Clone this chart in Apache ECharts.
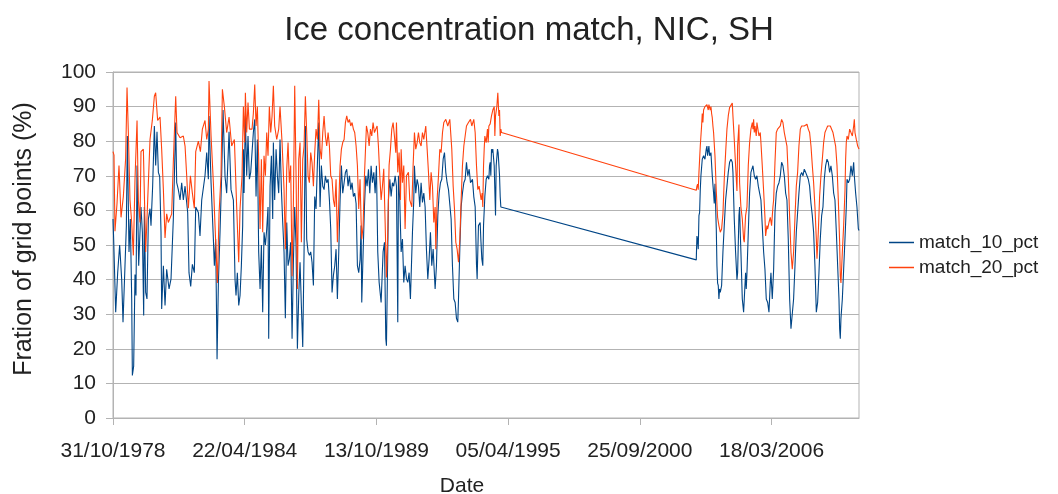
<!DOCTYPE html>
<html>
<head>
<meta charset="utf-8">
<script src="https://cdn.jsdelivr.net/npm/echarts@6/dist/echarts.min.js"></script>
<style>
  html, body { margin: 0; padding: 0; background: #fff; }
  #chart { width: 1058px; height: 494px; }
</style>
</head>
<body>
<div id="chart"></div>
<script>
// x values are days since 31/10/1978
const START = Date.UTC(1978, 9, 31)
const xTicks = [0, 2000, 4000, 6000, 8000, 10000]
const yTicks = [0, 10, 20, 30, 40, 50, 60, 70, 80, 90, 100]

// match_10_pct, 1978 - 1995
const match10_a = [
  [0,57.5],[10,51.7],[41,30.6],[71,42],[101,50],[132,40],[152,27.7],[182,44],[203,55.6],[218,81.5],
  [243,48],[263,57.5],[284,34.4],[294,12.3],[314,15],[334,41.5],[349,35.4],[365,73],[390,44],[425,61],
  [446,53.7],[466,29.6],[476,61],[496,36.3],[516,34.4],[537,57.5],[562,60.5],[577,55.6],[602,67],[628,84.4],
  [648,73],[668,82.7],[689,71],[709,69.8],[729,53.7],[739,31.5],[765,44],[790,32.5],[815,43],[851,37.3],
  [881,40.2],[916,57.5],[952,85.4],[967,68],[992,66],[1018,63],[1043,68],[1068,63],[1094,67],[1134,59.4],
  [1154,42],[1180,38],[1205,44.4],[1235,42],[1256,61],[1296,59.4],[1321,52.6],[1347,63],[1397,70],[1423,76.7],
  [1448,69],[1458,87.3],[1489,68],[1524,51.7],[1539,44],[1559,51.7],[1580,17],[1600,39],[1625,53.7],[1651,71],
  [1671,89],[1701,69.8],[1726,65],[1762,82.7],[1792,66],[1828,63],
  [1853,40],[1868,35.4],[1888,42],[1909,32.5],[1929,35.4],[1949,44],[1969,55.6],[1980,77.7],[1990,65],[2010,87.3],
  [2030,70],[2050,81.5],[2071,69],[2091,71],[2111,71],[2131,82.5],[2152,86.3],[2172,64],[2192,80.5],[2212,48],
  [2233,37.3],[2253,50],[2273,30.6],[2293,53.7],[2314,50],[2334,54.6],[2354,61],[2364,22.9],[2385,67],[2405,75.8],
  [2425,57.5],[2435,79.6],[2455,63],[2476,77.7],[2496,70],[2516,65],[2536,80.5],[2557,66],[2577,56.5],[2597,48],
  [2617,28.8],[2638,56.5],[2658,44],[2678,46],[2698,50.8],[2719,22.9],[2739,45],[2759,61],[2779,50],[2800,20],
  [2820,35.4],[2840,45],[2860,32.5],[2881,20.5],[2901,48],[2921,84.4],[2941,51.7],[2962,48],[2982,47],[3002,48],
  [3022,45],[3043,38.3],[3063,64],[3083,60.4],[3104,73.8],[3124,85.4],[3144,61],[3164,73],[3185,67],[3205,66],
  [3225,70],[3245,68],[3266,69],[3286,63],[3306,54.6],[3326,36.3],[3347,41.3],[3367,44],[3387,48.8],[3407,34.4],
  [3428,48],[3448,63],[3468,73],[3488,65],[3509,68],[3529,71],[3549,71.9],[3569,67],[3590,70],[3610,66],
  [3630,68],[3650,64],[3670,65],[3691,62],[3711,44],[3731,42],
  [3752,45.8],[3767,55.6],[3777,33.4],[3798,48],[3818,61],[3838,70],[3858,67],[3879,71.9],[3899,65],[3919,72.9],
  [3939,68],[3960,71],[3980,65],[4000,72.9],[4020,48],[4041,39.2],[4071,33.4],[4101,48],[4122,50.8],[4142,22.9],
  [4152,20.9],[4172,48],[4182,63],[4203,69],[4223,64],[4243,68],[4263,67],[4284,70],[4304,67],[4324,27.7],
  [4334,70],[4354,63],[4375,48],[4395,51.7],[4415,39.2],[4435,44],[4456,40.2],[4476,39.2],[4496,42],[4516,34.4],
  [4547,53.7],[4567,63],[4577,72.9],[4597,65],[4618,69],[4638,67],[4658,61],[4678,68],[4699,62.3],[4719,65],
  [4739,61],[4759,48.8],[4780,40.2],[4800,46],[4820,53.7],[4840,44],[4861,48.8],[4891,37.3],[4911,44],[4932,58.5],
  [4952,65],[4972,68],[4992,69],[5013,74.8],[5033,76.7],[5053,71],[5073,68],[5094,66],[5114,66],[5134,57.5],
  [5154,44],[5175,34.4],[5195,33.4],[5215,28.8],[5235,27.7],[5246,34.4],[5266,48.8],[5286,61],[5306,65],[5327,68],
  [5347,69],[5367,73.9],[5387,70],[5408,71.9],[5428,68],[5458,69],[5478,64],[5499,61],[5519,44.4],[5529,40.2],
  [5549,55.6],[5575,56.5],[5585,51.7],[5600,46],[5615,44],[5626,55.6],[5646,64],[5666,69],[5686,70],[5707,69],
  [5717,72.9],[5727,73.9],[5737,70],[5747,77.7],[5757,76.7],[5767,77.7],[5788,72.9],[5808,58.5],[5818,72.9],[5838,77.7],
  [5848,76.7],[5869,70],[5879,64],[5889,61],[5899,61.5]
]

// match_10_pct, 2002 - 2009
const match10_b = [
  [8856,45.7],[8866,52.6],[8876,51.7],[8886,48.8],[8897,58.5],[8907,59.4],[8917,66],[8927,70],[8947,74.8],[8967,75.8],
  [8988,74.8],[9008,77.7],[9018,78.6],[9028,75.8],[9048,78.6],[9059,75.8],[9079,76.7],[9099,70],[9119,65],[9129,62],
  [9140,67.7],[9160,54.7],[9170,44],[9180,39],[9190,38.3],[9200,34.4],[9210,37.3],[9221,36.3],[9241,38.3],[9261,48],
  [9281,55.6],[9302,63],[9322,67],[9342,71],[9362,73.9],[9383,74.8],[9403,73.9],[9413,71],[9433,57.5],[9453,48],
  [9474,40],[9484,42],[9504,58.5],[9514,61],[9524,53.7],[9534,48],[9555,34.4],[9575,30.6],[9585,34.4],[9605,42],
  [9615,37.3],[9626,42],[9646,53.7],[9666,65],[9686,71],[9707,71],[9717,72.9],[9737,70],[9757,69],[9777,70],
  [9798,67],[9818,65],[9838,63],[9858,55.6],[9879,48],[9899,43],[9919,34.4],[9940,33.4],[9960,30.6],[9980,39],
  [9990,42],[10010,34.4],[10031,43],[10051,59.4],[10071,65],[10091,67],[10112,68],[10132,70],[10152,73.9],[10172,72.9],
  [10193,70],[10213,65],[10233,63],[10253,51.7],[10274,34.4],[10294,25.8],[10314,25.8],[10334,34.4],[10355,44],[10375,53.7],
  [10395,59.4],[10415,65],[10436,70],[10456,71],[10476,70],[10496,71.9],[10517,71],[10537,70],[10557,69],[10577,67],
  [10598,62],[10618,58.5],[10638,53.7],[10658,44],[10679,30.6],[10699,33.4],[10719,42],[10739,51.7],[10760,58.5],[10780,61],
  [10800,69],[10820,72.9],[10841,74.8],[10861,73.9],[10881,71],[10901,72.9],[10922,70],[10942,65],[10962,63],[10983,53.7],
  [11003,44],[11023,34.4],[11033,25.8],[11043,22.9],[11053,28.8],[11074,34.4],[11094,43],[11114,51.7],[11134,61],[11145,69],
  [11165,68],[11185,69],[11205,72.9],[11226,70],[11246,73.9],[11256,70],[11276,65],[11296,61],[11317,54.7],[11327,54.2]
]

// match_20_pct, 1978 - 1995
const match20_a = [
  [0,77],[15,76],[30,54],[61,62],[91,73],[122,58],[157,64],[192,75],[213,95.5],[233,82.5],
  [258,63],[284,56.5],[309,47],[334,69],[365,86],[385,63],[410,56.5],[425,77],[461,77.7],[496,48],
  [527,63],[562,80.5],[597,86],[628,93],[648,94],[678,86],[714,87],[739,77.7],[765,66],[790,52],
  [815,59],[840,56.5],[891,59],[916,74],[952,93],[972,82.5],[1018,81],[1068,81.5],[1094,78.6],[1119,70],
  [1144,60.6],[1175,70],[1205,65],[1235,60.6],[1256,77],[1296,80],[1327,77],[1357,83.5],[1397,86],[1423,80.5],
  [1448,83.5],[1458,97.4],[1489,81.5],[1524,68],[1549,55.6],[1585,39],[1610,59],[1640,70],[1661,95],[1691,90],
  [1726,82.5],[1762,87],[1802,78.6],[1843,80.5],
  [1878,60.9],[1909,45],[1929,60.4],[1959,70],[1980,90],[2000,79.6],[2010,94],[2030,82.5],[2050,91.2],[2071,83.5],
  [2091,84],[2111,83.5],[2131,88],[2152,96.4],[2172,84.4],[2192,90],[2212,74.8],[2233,54.6],[2253,74.8],[2273,53.7],
  [2293,75.8],[2314,70],[2334,82.5],[2354,75.8],[2374,90],[2395,82.5],[2415,87.3],[2435,96],[2455,84.4],[2486,80.5],
  [2516,83.5],[2536,90],[2567,79.6],[2597,66],[2617,48.8],[2638,72],[2658,79.6],[2678,68],[2698,73],[2719,41],
  [2739,62],[2759,96],[2779,71],[2800,37.3],[2820,74.8],[2840,79.6],[2860,50.8],[2881,74.8],[2901,78.6],[2921,93],
  [2941,82.5],[2962,70],[2982,68],[3002,76.7],[3022,73.8],[3043,67],[3063,76.7],[3083,83.5],[3104,80.5],[3124,92],
  [3144,77.7],[3164,74.8],[3185,82.5],[3205,87.3],[3225,81.5],[3245,78.6],[3266,82.5],[3286,78.6],[3306,70],[3326,69],
  [3347,63],[3367,61],[3387,69],[3407,50.8],[3428,62],[3448,73],[3468,77.7],[3488,79.6],[3509,80.5],[3529,85.4],
  [3549,87.3],[3569,85.4],[3590,86.3],[3610,84.4],[3630,85.4],[3650,83.5],[3670,82.5],[3691,78.6],[3711,73],[3731,60.4],
  [3751,69],[3767,57],[3777,51.7],[3798,55.6],[3818,70],[3848,84.4],[3868,82.5],[3889,78.6],[3909,83.5],[3929,81.5],
  [3949,85.4],[3970,82.5],[3990,83.5],[4010,84.4],[4030,78.6],[4051,70],[4071,63],[4091,67],[4111,72],[4132,56.5],
  [4152,40.6],[4172,53.7],[4192,73],[4213,77.7],[4233,83.5],[4253,85.4],[4273,81.5],[4294,76.7],[4304,85.4],[4324,71],
  [4344,76.7],[4365,63],[4375,77.7],[4395,68],[4415,73],[4435,54.6],[4456,70],[4486,71],[4506,63],[4537,61],
  [4557,73],[4577,82.5],[4597,77.7],[4618,79.6],[4638,82.5],[4658,79.6],[4678,78.6],[4699,82.5],[4719,80.5],[4749,84.4],
  [4770,77.7],[4790,71],[4810,63],[4830,71],[4851,67],[4871,56.5],[4891,61],[4901,48.8],[4921,63],[4942,70],
  [4962,77.7],[4982,76.7],[5003,82.5],[5023,85.4],[5053,86.3],[5083,84.4],[5114,86.3],[5144,77.7],[5165,67],[5185,60.4],
  [5205,50.8],[5225,48.8],[5246,45],[5266,51.7],[5286,63],[5306,73],[5327,78.6],[5347,81.5],[5367,84.4],[5397,85.4],
  [5428,86.3],[5448,84.4],[5478,86.3],[5499,82.5],[5519,73],[5539,66],[5559,67],[5590,63],[5605,65],[5615,61],
  [5626,72.9],[5636,77.7],[5646,81.5],[5666,79.6],[5686,83.5],[5697,79.6],[5707,84.4],[5727,85],[5747,87.3],[5767,89],
  [5788,90],[5798,81.5],[5808,87.3],[5828,90],[5843,94],[5859,87.3],[5869,89],[5879,81.5],[5889,83.5],[5899,82.5]
]

// match_20_pct, 2002 - 2009
const match20_b = [
  [8856,65.8],[8866,67],[8876,67.6],[8886,66],[8897,71],[8907,74.8],[8917,78.6],[8937,84.4],[8947,88],[8957,85.4],
  [8967,89],[8988,90],[9008,89.7],[9018,90.6],[9038,89],[9048,90.6],[9059,91],[9069,89],[9079,90],[9089,88],
  [9099,86.8],[9109,84.4],[9119,82.5],[9140,75.8],[9160,65.6],[9180,58],[9200,55.6],[9221,53.7],[9241,54.6],[9261,59],
  [9281,69],[9302,76.7],[9322,83.5],[9342,87.3],[9362,89.7],[9383,90.2],[9403,91],[9413,87.3],[9433,80.5],[9453,73],
  [9474,65.6],[9484,78.6],[9504,84.8],[9514,68],[9534,61],[9555,57.5],[9575,51.7],[9585,50.8],[9605,58.5],[9626,61],
  [9646,73],[9666,79.6],[9686,83.5],[9707,85.4],[9717,83.5],[9727,86.3],[9737,82.5],[9747,84.4],[9767,81.5],[9777,85.4],
  [9798,85.4],[9808,81.5],[9828,82.5],[9838,79.6],[9858,73],[9879,65.6],[9899,58],[9909,52.6],[9929,55.6],[9940,54.6],
  [9960,56.5],[9980,58],[10000,55.6],[10020,61],[10031,63],[10051,73.8],[10071,82.5],[10091,83.5],[10112,84],[10132,84.4],
  [10152,86.3],[10172,85.4],[10193,82.5],[10213,80.5],[10233,78.6],[10253,70],[10274,58],[10294,48],[10314,43],[10334,48],
  [10355,58],[10375,67],[10395,71],[10415,78.6],[10436,83.5],[10456,84.4],[10476,84.9],[10496,84.4],[10517,84.4],[10537,84.9],
  [10557,83.5],[10577,82.5],[10598,78.6],[10618,73],[10638,68],[10658,61],[10679,51.7],[10689,46],[10709,53.7],[10729,64],
  [10749,70],[10770,74.8],[10790,79.6],[10810,82.5],[10831,83.5],[10851,84.4],[10871,84.9],[10891,84.4],[10912,83.9],[10932,82.5],
  [10952,80.5],[10972,78.6],[10993,73],[11013,63],[11033,50.8],[11043,41],[11053,39],[11074,47.9],[11094,55.6],[11114,65.6],
  [11124,74.8],[11134,79.6],[11145,81.5],[11165,80.5],[11185,83.5],[11205,82.5],[11226,81.5],[11246,84.4],[11256,86.3],[11266,82.5],
  [11286,80.5],[11307,78.6],[11327,77.7]
]

const FONT = 'Liberation Sans, Arial, sans-serif'
const GRAY = '#b3b3b3'

function fmtDay(v) {
  const d = new Date(START + v * 86400000)
  const p = n => (n < 10 ? '0' : '') + n
  return p(d.getUTCDate()) + '/' + p(d.getUTCMonth() + 1) + '/' + d.getUTCFullYear()
}

const chart = echarts.init(document.getElementById('chart'))
chart.setOption({
  animation: false,
  backgroundColor: '#fff',
  title: {
    text: 'Ice concentration match, NIC, SH',
    left: 'center',
    top: 9,
    textStyle: { fontFamily: FONT, fontSize: 33, fontWeight: 'normal', color: '#222' }
  },
  legend: {
    orient: 'vertical',
    left: 884,
    top: 228,
    icon: 'rect',
    itemWidth: 25,
    itemHeight: 1.5,
    itemGap: 6,
    textStyle: { fontFamily: FONT, fontSize: 19, color: '#222', lineHeight: 19 },
    data: ['match_10_pct', 'match_20_pct']
  },
  grid: {
    left: 113, right: 199, top: 72, bottom: 76,
    show: true, borderColor: GRAY, borderWidth: 1
  },
  xAxis: {
    type: 'value',
    min: 0,
    max: 11327,
    interval: 2000,
    axisLine: { lineStyle: { color: GRAY } },
    axisTick: { show: true, length: 7, lineStyle: { color: GRAY }, customValues: xTicks },
    axisLabel: {
      fontFamily: FONT, fontSize: 21, color: '#222', margin: 23,
      customValues: xTicks,
      formatter: fmtDay
    },
    splitLine: { show: false }
  },
  yAxis: {
    type: 'value',
    min: 0,
    max: 100,
    interval: 10,
    axisLine: { show: true, lineStyle: { color: GRAY } },
    axisTick: { show: true, length: 7, lineStyle: { color: GRAY } },
    axisLabel: { fontFamily: FONT, fontSize: 21, color: '#222', margin: 17 },
    splitLine: { lineStyle: { color: GRAY } }
  },
  graphic: [
    {
      type: 'text', x: 24, y: 239, rotation: Math.PI / 2,
      style: { text: 'Fration of grid points (%)', font: '25px ' + FONT, fill: '#222', align: 'center', verticalAlign: 'middle' }
    },
    {
      type: 'text', x: 462, y: 486,
      style: { text: 'Date', font: '21px ' + FONT, fill: '#222', align: 'center', verticalAlign: 'middle' }
    }
  ],
  series: [
    {
      name: 'match_10_pct',
      type: 'line',
      symbol: 'none',
      lineStyle: { color: '#004586', width: 1.1 },
      itemStyle: { color: '#004586' },
      data: match10_a.concat(match10_b)
    },
    {
      name: 'match_20_pct',
      type: 'line',
      symbol: 'none',
      lineStyle: { color: '#ff420e', width: 1.1 },
      itemStyle: { color: '#ff420e' },
      data: match20_a.concat(match20_b)
    }
  ]
})
</script>
</body>
</html>
